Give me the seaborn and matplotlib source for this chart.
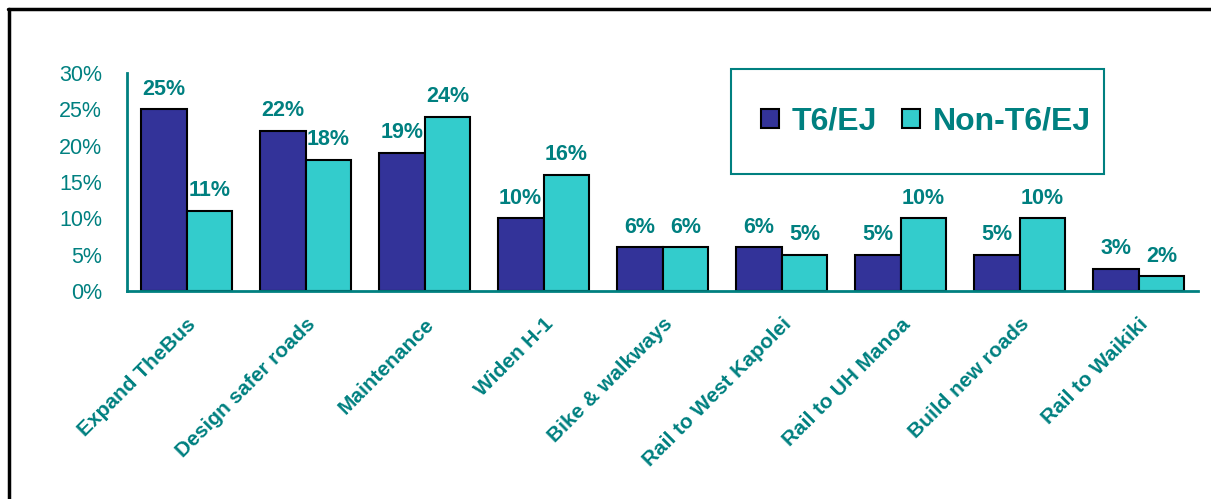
import pandas as pd
import seaborn as sns
import matplotlib.pyplot as plt
from matplotlib.patches import Rectangle
from matplotlib.lines import Line2D

# Data (percent)
categories = ['Expand TheBus', 'Design safer roads', 'Maintenance', 'Widen H-1',
              'Bike & walkways', 'Rail to West Kapolei', 'Rail to UH Manoa',
              'Build new roads', 'Rail to Waikiki']
t6_ej = [25, 22, 19, 10, 6, 6, 5, 5, 3]
non_t6_ej = [11, 18, 24, 16, 6, 5, 10, 10, 2]
groups = ['T6/EJ', 'Non-T6/EJ']

data = pd.DataFrame({
    'category': categories * 2,
    'group': [groups[0]] * len(categories) + [groups[1]] * len(categories),
    'value': t6_ej + non_t6_ej,
})

teal = '#008080'
colors = {'T6/EJ': '#333399', 'Non-T6/EJ': '#33CCCC'}

sns.set_style('white')
plt.rcParams['font.family'] = ['Liberation Sans', 'DejaVu Sans']

fig = plt.figure(figsize=(12.11, 4.99), dpi=100)
ax = fig.add_axes([0.1049, 0.4168, 0.8844, 0.4369])

sns.barplot(data=data, x='category', y='value', hue='group', order=categories,
            hue_order=groups, palette=colors, width=0.77, edgecolor='black',
            linewidth=1.5, saturation=1, ax=ax)

# value labels
for container in ax.containers:
    ax.bar_label(container, fmt='%d%%', padding=7, color=teal,
                 fontsize=15.5, fontweight='bold')

ax.set_ylim(0, 30)
ax.set_xlim(-0.5, len(categories) - 0.5)
ax.set_yticks(range(0, 31, 5))
ax.set_yticklabels([f'{v}%' for v in range(0, 31, 5)], color=teal, fontsize=15.5)
ax.set_xticks(range(len(categories)))
ax.set_xticklabels(categories, rotation=45, ha='right', rotation_mode='anchor',
                   color=teal, fontsize=15, fontweight='bold')
ax.set_xticks([i - 0.5 for i in range(len(categories) + 1)], minor=True)
ax.tick_params(axis='x', which='major', length=0, pad=17)
ax.tick_params(axis='x', which='minor', length=6, width=1.5, color=teal, direction='out')
ax.tick_params(axis='y', length=6, width=1.5, color=teal, direction='out', pad=12)
ax.set_xlabel('')
ax.set_ylabel('')

for side in ['top', 'right']:
    ax.spines[side].set_visible(False)
for side in ['left', 'bottom']:
    ax.spines[side].set_color(teal)
    ax.spines[side].set_linewidth(2)

# legend in a teal box
handles, labels = ax.get_legend_handles_labels()
ax.get_legend().remove()
fig.patches.append(Rectangle((731 / 1211, 1 - 174 / 499), 373 / 1211, 105 / 499,
                             transform=fig.transFigure, fill=False,
                             edgecolor=teal, linewidth=1.5))
fig.legend(handles, labels, loc='center', bbox_to_anchor=(926 / 1211, 1 - 122 / 499),
           ncol=2, frameon=False, handlelength=0.55, handleheight=0.55,
           handletextpad=0.4, columnspacing=0.8,
           prop={'size': 23, 'weight': 'bold'}, labelcolor=teal)

# outer frame (top and left edges)
fig.add_artist(Line2D([8 / 1211, 1], [1 - 9 / 499, 1 - 9 / 499],
                      transform=fig.transFigure, color='black', linewidth=2.5))
fig.add_artist(Line2D([9 / 1211, 9 / 1211], [0, 1 - 9 / 499],
                      transform=fig.transFigure, color='black', linewidth=2.5))

fig.savefig('out.png', dpi=100)
